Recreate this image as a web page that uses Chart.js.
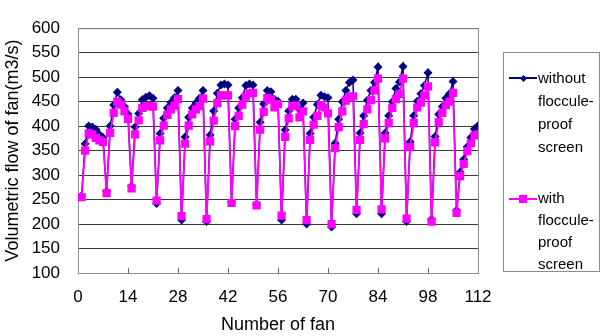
<!DOCTYPE html>
<html>
<head>
<meta charset="utf-8">
<script src="https://cdn.jsdelivr.net/npm/chart.js@4.4.0/dist/chart.umd.min.js"></script>
<style>
  body { margin: 0; background: #fff; }
  #wrap { position: relative; width: 603px; height: 336px; }
  #legend {
    position: absolute; left: 503px; top: 52px; width: 97px; height: 220px;
    border: 1px solid #8c8c8c; box-sizing: border-box;
    font-family: "Liberation Sans", Arial, sans-serif; font-size: 15px; color: #000;
  }
  .item { position: absolute; left: 34px; }
  .sw { position: absolute; left: 5px; width: 28px; height: 2px; }
  .mk { position: absolute; }
</style>
</head>
<body>
<div id="wrap">
  <canvas id="myChart" width="603" height="336"></canvas>
  <div id="legend"></div>
</div>
<script>
// serie, una per ventilatore (1..112)
var seriesNames = ['without\nfloccule-\nproof\nscreen', 'with\nfloccule-\nproof\nscreen'];

var withoutScreen = [
  258, 364, 400, 398, 393, 383, 377,
  267, 400, 443, 469, 454, 440, 425,
  277, 398, 426, 454, 459, 462, 457,
  242, 385, 416, 437, 448, 458, 473,
  208, 378, 418, 437, 447, 457, 473,
  205, 382, 431, 467, 484, 486, 484,
  245, 414, 437, 458, 483, 486, 484,
  240, 408, 445, 473, 470, 455, 451,
  208, 392, 431, 455, 455, 434, 447,
  200, 385, 418, 444, 463, 460, 458,
  194, 365, 414, 450, 473, 489, 494,
  221, 386, 421, 453, 473, 489, 521,
  221, 386, 421, 450, 477, 490, 522,
  205, 368, 421, 451, 466, 483, 509,
  210, 379, 424, 440, 457, 466, 491,
  228, 306, 332, 358, 377, 394, 401
];

var withScreen = [
  255, 350, 385, 383, 376, 371, 368,
  263, 386, 427, 450, 444, 430, 415,
  273, 383, 412, 437, 441, 441, 440,
  248, 371, 401, 423, 434, 442, 455,
  216, 364, 401, 424, 434, 441, 456,
  210, 369, 411, 447, 463, 463, 463,
  243, 400, 421, 444, 460, 467, 468,
  238, 393, 429, 457, 454, 438, 445,
  217, 378, 416, 441, 442, 418, 430,
  208, 372, 403, 421, 443, 438, 426,
  200, 355, 398, 430, 452, 460, 461,
  229, 372, 404, 434, 453, 473, 497,
  230, 375, 406, 437, 455, 466, 497,
  211, 357, 406, 438, 448, 463, 481,
  205, 367, 408, 427, 443, 450, 468,
  223, 298, 323, 349, 365, 381, 383
];

var xTicks = [0, 14, 28, 42, 56, 70, 84, 98, 112];
var yTicks = [100, 150, 200, 250, 300, 350, 400, 450, 500, 550, 600];

var colori = ['#000080', '#ff00ff'];
var font = 'Liberation Sans, Arial, sans-serif';

function punti(valori) {
  var out = [];
  for (var i = 0; i < valori.length; i++) {
    out.push({ x: i + 1, y: valori[i] });
  }
  return out;
}

// bordo dell'area del grafico e tacche interne sull'asse x
var cornice = {
  id: 'cornice',
  beforeDatasetsDraw: function(chart) {
    var a = chart.chartArea, ctx = chart.ctx, sx = chart.scales.x;
    ctx.save();
    ctx.strokeStyle = '#8c8c8c';
    ctx.lineWidth = 1;
    ctx.strokeRect(a.left + 0.5, a.top + 0.5, a.right - a.left, a.bottom - a.top);
    ctx.strokeStyle = '#666';
    for (var i = 1; i < xTicks.length - 1; i++) {
      var px = Math.round(sx.getPixelForValue(xTicks[i])) + 0.5;
      ctx.beginPath();
      ctx.moveTo(px, a.bottom);
      ctx.lineTo(px, a.bottom - 5);
      ctx.stroke();
    }
    ctx.restore();
  }
};

var ctx = document.getElementById('myChart').getContext('2d');
var myChart = new Chart(ctx, {
  type: 'line',
  data: {
    datasets: [{
      label: seriesNames[0],
      data: punti(withoutScreen),
      borderColor: colori[0],
      backgroundColor: colori[0],
      borderWidth: 1.5,
      pointStyle: 'rectRot',
      pointRadius: 4.5,
      pointBorderWidth: 0,
      order: 1
    }, {
      label: seriesNames[1],
      data: punti(withScreen),
      borderColor: colori[1],
      backgroundColor: colori[1],
      borderWidth: 1.8,
      pointStyle: 'rect',
      pointRadius: 5.8,
      pointBorderWidth: 0,
      order: 0
    }]
  },
  options: {
    responsive: false,
    animation: false,
    layout: { padding: { left: 0, right: 125, top: 16, bottom: 0 } },
    plugins: { legend: { display: false }, tooltip: { enabled: false } },
    scales: {
      x: {
        type: 'linear',
        min: 0, max: 112,
        afterBuildTicks: function(scale) {
          scale.ticks = xTicks.map(function(v) { return { value: v }; });
        },
        afterFit: function(scale) { scale.height = 63; },
        grid: { display: false, drawTicks: false },
        border: { color: '#8c8c8c' },
        ticks: { padding: 14, color: '#000', font: { family: font, size: 17 }, maxRotation: 0 },
        title: { display: true, text: 'Number of fan', color: '#000',
                 font: { family: font, size: 18 }, padding: { top: 0, bottom: 0 } }
      },
      y: {
        min: 100, max: 600,
        afterBuildTicks: function(scale) {
          scale.ticks = yTicks.map(function(v) { return { value: v }; });
        },
        afterFit: function(scale) { scale.width = 78; },
        grid: { color: '#3a3a3a', lineWidth: 1, drawTicks: false },
        border: { color: '#8c8c8c' },
        ticks: { padding: 18, color: '#000', font: { family: font, size: 17 } },
        title: { display: true, text: 'Volumetric flow of fan(m3/s)', color: '#000',
                 font: { family: font, size: 18 }, padding: { top: 2, bottom: 0 } }
      }
    }
  },
  plugins: [cornice]
});

// legenda in html, a destra del grafico
var leg = document.getElementById('legend');
var tops = [13, 134];
var righe = [23, 22];
var marker = ['rectRot', 'rect'];
for (var i = 0; i < seriesNames.length; i++) {
  var sw = document.createElement('div');
  sw.className = 'sw';
  sw.style.top = (tops[i] + 11) + 'px';
  sw.style.background = colori[i];
  leg.appendChild(sw);
  var mk = document.createElement('div');
  mk.className = 'mk';
  mk.style.background = colori[i];
  if (marker[i] == 'rect') {
    mk.style.width = '8px'; mk.style.height = '8px';
    mk.style.left = '15px'; mk.style.top = (tops[i] + 8) + 'px';
  } else {
    mk.style.width = '5px'; mk.style.height = '5px';
    mk.style.left = '16.5px'; mk.style.top = (tops[i] + 9.5) + 'px';
    mk.style.transform = 'rotate(45deg)';
  }
  leg.appendChild(mk);
  var t = document.createElement('div');
  t.className = 'item';
  t.style.top = tops[i] + 'px';
  t.style.lineHeight = righe[i] + 'px';
  t.innerHTML = seriesNames[i].split('\n').join('<br>');
  leg.appendChild(t);
}
</script>
</body>
</html>
